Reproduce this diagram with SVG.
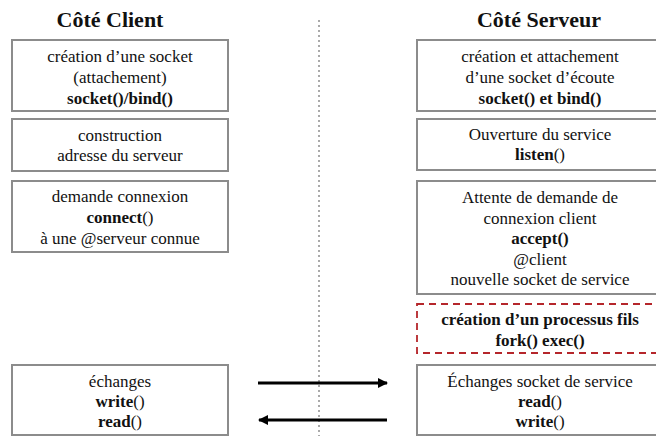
<svg xmlns="http://www.w3.org/2000/svg" width="656" height="436" viewBox="0 0 656 436">
  <style>
    .box { fill: #ffffff; stroke: #8c8c8c; stroke-width: 2; }
    .fork { fill: #ffffff; stroke: #b5262b; stroke-width: 1.8; stroke-dasharray: 7 5; }
    text { font-family: "Liberation Serif", "Times New Roman", serif; font-size: 17px; fill: #111111; text-anchor: middle; }
    .title { font-size: 22px; font-weight: bold; }
    .b { font-weight: bold; }
    .divider { stroke: #555555; stroke-width: 1; stroke-dasharray: 2 3; }
    .flow { stroke: #000000; stroke-width: 3; fill: none; }
  </style>
  <defs>
    <marker id="head" viewBox="0 0 10 10" refX="9" refY="5" markerWidth="3.4" markerHeight="3.4" orient="auto-start-reverse" markerUnits="strokeWidth">
      <path d="M0,0 L10,5 L0,10 z" fill="#000000"/>
    </marker>
  </defs>

  <rect width="656" height="436" fill="#ffffff"/>

  <g font-family="Liberation Serif, Times New Roman, serif">
  <!-- column titles -->
  <text class="title" x="110" y="27">Côté Client</text>
  <text class="title" x="539" y="27">Côté Serveur</text>

  <!-- client / server separator -->
  <line class="divider" x1="319" y1="20" x2="319" y2="436"/>

  <!-- client side -->
  <g id="client-socket">
    <rect class="box" x="12" y="40" width="216" height="71"/>
    <text x="120" y="62">création d’une socket</text>
    <text x="120" y="83">(attachement)</text>
    <text x="120" y="104" class="b">socket()/bind()</text>
  </g>
  <g id="client-address">
    <rect class="box" x="12" y="119" width="216" height="52"/>
    <text x="120" y="141">construction</text>
    <text x="120" y="161">adresse du serveur</text>
  </g>
  <g id="client-connect">
    <rect class="box" x="12" y="181" width="216" height="71"/>
    <text x="120" y="202">demande connexion</text>
    <text x="120" y="223"><tspan class="b">connect</tspan>()</text>
    <text x="120" y="244">à une @serveur connue</text>
  </g>
  <g id="client-exchange">
    <rect class="box" x="12" y="365" width="216" height="70"/>
    <text x="120" y="387">échanges</text>
    <text x="120" y="407"><tspan class="b">write</tspan>()</text>
    <text x="120" y="427"><tspan class="b">read</tspan>()</text>
  </g>

  <!-- server side -->
  <g id="server-socket">
    <rect class="box" x="417" y="40" width="246" height="71"/>
    <text x="540" y="62">création et attachement</text>
    <text x="540" y="83">d’une socket d’écoute</text>
    <text x="540" y="104" class="b">socket() et bind()</text>
  </g>
  <g id="server-listen">
    <rect class="box" x="417" y="119" width="246" height="51"/>
    <text x="540" y="140">Ouverture du service</text>
    <text x="540" y="160"><tspan class="b">listen</tspan>()</text>
  </g>
  <g id="server-accept">
    <rect class="box" x="417" y="181" width="246" height="113"/>
    <text x="540" y="203">Attente de demande de</text>
    <text x="540" y="224">connexion client</text>
    <text x="540" y="244" class="b">accept()</text>
    <text x="540" y="265">@client</text>
    <text x="540" y="285">nouvelle socket de service</text>
  </g>
  <g id="server-fork">
    <rect class="fork" x="417" y="304" width="246" height="49"/>
    <text x="540" y="325" class="b">création d’un processus fils</text>
    <text x="540" y="346" class="b">fork() exec()</text>
  </g>
  <g id="server-exchange">
    <rect class="box" x="417" y="365" width="246" height="70"/>
    <text x="540" y="387">Échanges socket de service</text>
    <text x="540" y="407"><tspan class="b">read</tspan>()</text>
    <text x="540" y="427"><tspan class="b">write</tspan>()</text>
  </g>
  </g>

  <!-- data exchange arrows -->
  <g id="connectors">
    <line class="flow" x1="258" y1="383" x2="387" y2="383" marker-end="url(#head)"/>
    <line class="flow" x1="387" y1="420" x2="259" y2="420" marker-end="url(#head)"/>
  </g>
</svg>
